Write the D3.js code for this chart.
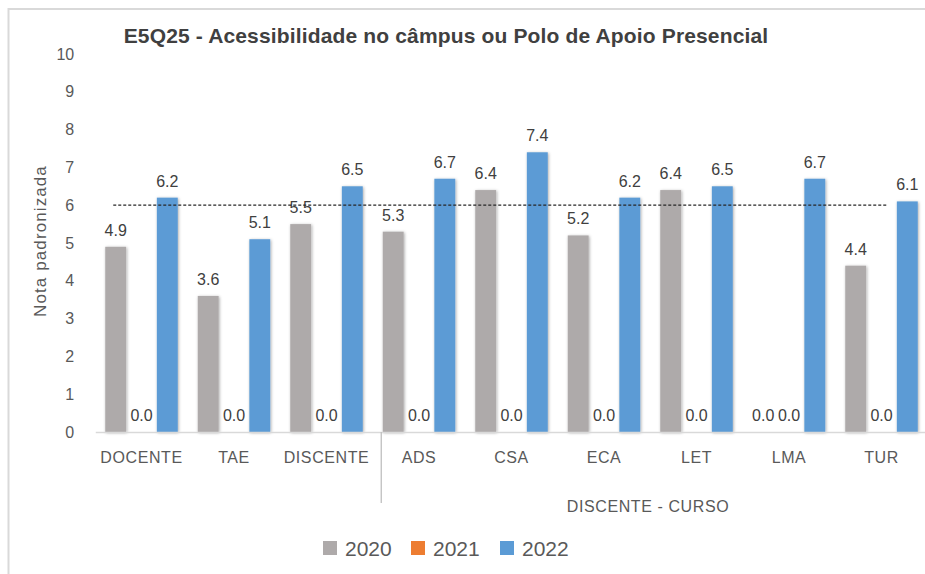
<!DOCTYPE html>
<html>
<head>
<meta charset="utf-8">
<script src="https://cdn.jsdelivr.net/npm/d3@7"></script>
<style>
  html, body { margin: 0; padding: 0; background: #fff; }
  svg { display: block; }
  text { font-family: "Liberation Sans", Arial, sans-serif; }
</style>
</head>
<body>
<svg id="chart" width="925" height="574"></svg>
<script>
// Categories (first three are respondent groups, the rest are courses)
const categories = ["DOCENTE", "TAE", "DISCENTE", "ADS", "CSA", "ECA", "LET", "LMA", "TUR"];
const seriesNames = ["2020", "2021", "2022"];
const values2020 = [4.9, 3.6, 5.5, 5.3, 6.4, 5.2, 6.4, 0.0, 4.4];
const values2021 = [0.0, 0.0, 0.0, 0.0, 0.0, 0.0, 0.0, 0.0, 0.0];
const values2022 = [6.2, 5.1, 6.5, 6.7, 7.4, 6.2, 6.5, 6.7, 6.1];
const yTicks = [0, 1, 2, 3, 4, 5, 6, 7, 8, 9, 10];
const targetValue = 6;
const courseGroupLabel = "DISCENTE - CURSO";
const courseGroupStart = "ADS";
const titleText = "E5Q25 - Acessibilidade no câmpus ou Polo de Apoio Presencial";
const yTitle = "Nota padronizada";

const colors = { "2020": "#AEAAAA", "2021": "#ED7D31", "2022": "#5B9BD5" };
const seriesValues = { "2020": values2020, "2021": values2021, "2022": values2022 };

const svg = d3.select("#chart");

// outer chart frame
svg.append("rect")
  .attr("x", 8.5).attr("y", 9).attr("width", 1000).attr("height", 700)
  .attr("fill", "none").attr("stroke", "#d9d9d9").attr("stroke-width", 2);

const defs = svg.append("defs");
const shadow = defs.append("filter").attr("id", "barShadow")
  .attr("x", "-50%").attr("y", "-10%").attr("width", "200%").attr("height", "120%");
shadow.append("feDropShadow").attr("dx", 0.8).attr("dy", 0.8)
  .attr("stdDeviation", 1.6).attr("flood-color", "#000").attr("flood-opacity", 0.35);

const plot = { left: 95.25, right: 927.75, top: 54, bottom: 432 };

const x = d3.scaleBand().domain(categories).range([plot.left, plot.right]).paddingInner(0).paddingOuter(0);
const xInner = d3.scaleBand().domain(seriesNames).range([10, x.bandwidth() - 10]).paddingInner(0.19).paddingOuter(0);
const y = d3.scaleLinear().domain([0, 10]).range([plot.bottom, plot.top]);

// title
svg.append("text")
  .attr("x", 446).attr("y", 43)
  .attr("text-anchor", "middle")
  .attr("font-size", 21).attr("font-weight", "bold")
  .attr("letter-spacing", 0.15)
  .attr("fill", "#404040")
  .text(titleText);

// y axis (labels only)
const yAxis = d3.axisLeft(y).tickValues(yTicks).tickFormat(d3.format("d")).tickSize(0).tickPadding(0);
const yG = svg.append("g").attr("transform", `translate(${plot.left - 21},0)`).call(yAxis);
yG.select(".domain").remove();
yG.selectAll("text").attr("font-size", 16).attr("fill", "#595959")
  .attr("font-family", "\"Liberation Sans\", Arial, sans-serif");

svg.append("text")
  .attr("transform", "translate(46,241) rotate(-90)")
  .attr("text-anchor", "middle")
  .attr("font-size", 17).attr("fill", "#595959")
  .attr("letter-spacing", 1.1)
  .text(yTitle);

// bars
const groups = svg.append("g").selectAll("g")
  .data(categories).join("g")
  .attr("transform", d => `translate(${x(d)},0)`);

seriesNames.forEach(s => {
  const vals = seriesValues[s];
  groups.append("rect")
    .attr("x", xInner(s))
    .attr("width", xInner.bandwidth())
    .attr("y", (d, i) => y(vals[i]))
    .attr("height", (d, i) => y(0) - y(vals[i]))
    .attr("fill", colors[s])
    .attr("filter", "url(#barShadow)");
});

// x axis baseline
const xAxis = d3.axisBottom(x).tickSize(0).tickPadding(20);
const xG = svg.append("g").attr("transform", `translate(0,${plot.bottom})`).call(xAxis);
xG.select(".domain").attr("stroke", "#d9d9d9").attr("stroke-width", 1.3);
xG.selectAll("text").attr("font-size", 16).attr("fill", "#595959")
  .attr("letter-spacing", 0.6)
  .attr("font-family", "\"Liberation Sans\", Arial, sans-serif");

// data labels
seriesNames.forEach(s => {
  const vals = seriesValues[s];
  groups.append("text")
    .attr("x", xInner(s) + xInner.bandwidth() / 2)
    .attr("y", (d, i) => y(vals[i]) - 11)
    .attr("text-anchor", "middle")
    .attr("font-size", 16).attr("fill", "#404040")
    .text((d, i) => d3.format(".1f")(vals[i]));
});

// target line at 6
svg.append("line")
  .attr("x1", x("DOCENTE") + 18).attr("x2", x("TUR") + x.bandwidth() / 2 + 6)
  .attr("y1", y(targetValue)).attr("y2", y(targetValue))
  .attr("stroke", "#262626").attr("stroke-width", 1.2)
  .attr("stroke-dasharray", "3,2");

// separator between respondent groups and courses
const sepX = x(courseGroupStart) + 8.5;
svg.append("line")
  .attr("x1", sepX).attr("x2", sepX)
  .attr("y1", plot.bottom).attr("y2", 503)
  .attr("stroke", "#bfbfbf").attr("stroke-width", 1.3);

svg.append("text")
  .attr("x", 648).attr("y", 512)
  .attr("text-anchor", "middle")
  .attr("font-size", 16).attr("fill", "#595959")
  .attr("letter-spacing", 0.6)
  .text(courseGroupLabel);

// legend
const legendX = [323, 411, 500];
const legend = svg.append("g").selectAll("g").data(seriesNames).join("g")
  .attr("transform", (d, i) => `translate(${legendX[i]},548)`);
legend.append("rect").attr("x", 0).attr("y", -7).attr("width", 14).attr("height", 14)
  .attr("fill", d => colors[d]);
legend.append("text").attr("x", 22).attr("y", 7.5)
  .attr("font-size", 21).attr("fill", "#595959")
  .text(d => d);
</script>
</body>
</html>
